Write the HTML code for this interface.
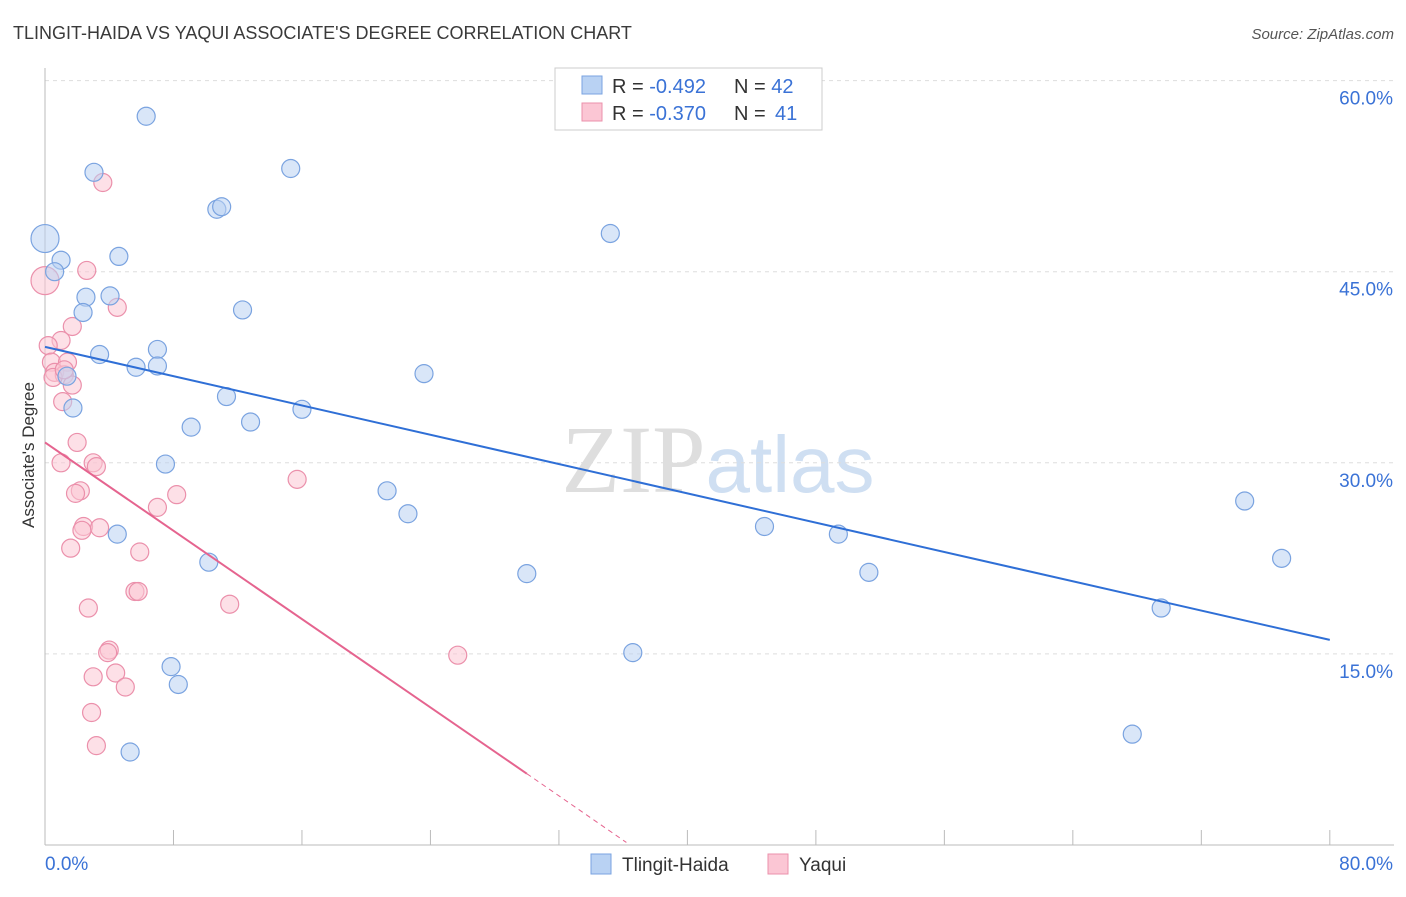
<!DOCTYPE html>
<html><head><meta charset="utf-8"><style>
body{margin:0;background:#fff;font-family:"Liberation Sans",sans-serif}
</style></head><body>
<svg id="chart" width="1406" height="892" xmlns="http://www.w3.org/2000/svg" font-family="Liberation Sans, sans-serif">
<text x="13" y="39" font-size="18" fill="#3a3a3a">TLINGIT-HAIDA VS YAQUI ASSOCIATE'S DEGREE CORRELATION CHART</text>
<text x="1394" y="39" font-size="15" fill="#555" text-anchor="end" font-style="italic">Source: ZipAtlas.com</text>
<text x="718" y="492" font-size="96" text-anchor="middle"><tspan fill="#dedede" font-family="Liberation Serif, serif">ZIP</tspan><tspan fill="#cfdff2" font-size="80">atlas</tspan></text>
<g id="grid"></g><g id="axes"></g><g id="marks"></g>
<text transform="translate(34,455) rotate(-90)" font-size="17" fill="#333" text-anchor="middle">Associate's Degree</text>
<g>
<rect x="555" y="68" width="267" height="62" fill="#fff" stroke="#ccc"/>
<rect x="582" y="76" width="20" height="18" fill="#b9d2f3" stroke="#7aa3e0"/>
<rect x="582" y="103" width="20" height="18" fill="#fbc6d4" stroke="#eb90ab"/>
<text x="612" y="93" font-size="20" fill="#333">R = <tspan fill="#3a72d6">-0.492</tspan></text>
<text x="734" y="93" font-size="20" fill="#333">N = <tspan fill="#3a72d6">42</tspan></text>
<text x="612" y="120" font-size="20" fill="#333">R = <tspan fill="#3a72d6">-0.370</tspan></text>
<text x="734" y="120" font-size="20" fill="#333">N = <tspan fill="#3a72d6" x="775">41</tspan></text>
</g>
<g>
<rect x="591" y="854" width="20" height="20" fill="#b9d2f3" stroke="#7aa3e0"/>
<text x="622" y="871" font-size="19" fill="#333">Tlingit-Haida</text>
<rect x="768" y="854" width="20" height="20" fill="#fbc6d4" stroke="#eb90ab"/>
<text x="799" y="871" font-size="19" fill="#333">Yaqui</text>
</g>
</svg>
<script>
const yTicks=[15,30,45,60];
const xTickLabels=["0.0%","80.0%"];
const blueX=[6.3,3.05,15.3,10.7,11.0,0,35.2,1.0,4.6,0.6,2.55,4.05,2.37,12.3,3.4,7.0,5.67,7.0,1.37,23.6,1.74,11.3,16.0,12.8,9.1,7.5,21.3,22.6,74.7,44.8,49.4,4.5,77.0,10.2,30.0,51.3,69.5,36.6,7.85,8.3,67.7,5.3];
const blueY=[57.2,52.8,53.1,49.9,50.1,47.6,48.0,45.9,46.2,45.0,43.0,43.1,41.8,42.0,38.5,38.9,37.5,37.6,36.8,37.0,34.3,35.2,34.2,33.2,32.8,29.9,27.8,26.0,27.0,25.0,24.4,24.4,22.5,22.2,21.3,21.4,18.6,15.1,14.0,12.6,8.7,7.3];
const pinkX=[0,3.6,2.6,4.5,1.7,1.0,0.2,0.4,1.4,0.6,1.2,0.5,1.7,1.1,2.0,1.0,3.0,3.2,15.7,2.2,1.9,8.2,7.0,2.4,2.3,3.4,1.6,5.9,5.6,5.8,11.5,2.7,4.0,3.9,25.7,4.4,3.0,5.0,2.9,3.2,1.2];
const pinkY=[44.3,52.0,45.1,42.2,40.7,39.6,39.2,37.9,37.9,37.1,36.9,36.7,36.1,34.8,31.6,30.0,30.0,29.7,28.7,27.8,27.6,27.5,26.5,25.0,24.7,24.9,23.3,23.0,19.9,19.9,18.9,18.6,15.3,15.1,14.9,13.5,13.2,12.4,10.4,7.8,37.3];
const blueSize=[9,9,9,9,9,14,9,9,9,9,9,9,9,9,9,9,9,9,9,9,9,9,9,9,9,9,9,9,9,9,9,9,9,9,9,9,9,9,9,9,9,9];
const blueTrend=[[0,39.1],[80,16.1]];
const pinkTrend=[[0,31.6],[30,5.6]];
const pinkDash=[[30,5.6],[36.2,0.2]];
const X=v=>45+v*16.06, Y=v=>845-v*12.74;
const NS="http://www.w3.org/2000/svg";
function mk(p,t,a){const e=document.createElementNS(NS,t);for(const k in a)e.setAttribute(k,a[k]);p.appendChild(e);return e;}
const grid=document.getElementById('grid'),axes=document.getElementById('axes'),marks=document.getElementById('marks');
yTicks.forEach(t=>{
 const l=mk(grid,'line',{x1:45,x2:1394,y1:Y(t),y2:Y(t),stroke:'#ddd','stroke-dasharray':'4,4'});
 
 
 const tx=mk(axes,'text',{x:1393,y:Y(t)+24,'font-size':19,fill:'#3a72d6','text-anchor':'end'});tx.textContent=t.toFixed(1)+'%';
 
 
});
const xa=mk(axes,'line',{x1:45,x2:1394,y1:845,y2:845,stroke:'#bbb'});


const ya=mk(axes,'line',{x1:45,x2:45,y1:68,y2:845,stroke:'#bbb'});


for(let i=0;i<=10;i++){const v=i*8;const t=mk(axes,'line',{x1:X(v),x2:X(v),y1:830,y2:845,stroke:'#bbb'});
 
 }
[[0,'start',45],[80,'end',1393]].forEach((d,i)=>{const t=mk(axes,'text',{x:d[2],y:870,'font-size':19,fill:'#3a72d6','text-anchor':d[1]});t.textContent=xTickLabels[i];
 
 });
function dots(xs,ys,fill,stroke,name,sz){xs.forEach((x,i)=>{const r=sz?sz[i]:(i===0?14:9);
 const c=mk(marks,'circle',{cx:X(x),cy:Y(ys[i]),r:r,fill:fill,stroke:stroke,'stroke-width':1.2,'fill-opacity':0.55});
 
 });}
dots(pinkX,pinkY,'#fbc6d4','#eb90ab','yaqui-point');
dots(blueX,blueY,'#b9d2f3','#7aa3e0','tlingit-haida-point',blueSize);
const bl=mk(marks,'line',{x1:X(blueTrend[0][0]),y1:Y(blueTrend[0][1]),x2:X(blueTrend[1][0]),y2:Y(blueTrend[1][1]),stroke:'#2f6fd6','stroke-width':2});


const pl=mk(marks,'line',{x1:X(pinkTrend[0][0]),y1:Y(pinkTrend[0][1]),x2:X(pinkTrend[1][0]),y2:Y(pinkTrend[1][1]),stroke:'#e5648f','stroke-width':2});


const pd=mk(marks,'line',{x1:X(pinkDash[0][0]),y1:Y(pinkDash[0][1]),x2:X(pinkDash[1][0]),y2:Y(pinkDash[1][1]),stroke:'#e5648f','stroke-width':1,'stroke-dasharray':'5,4'});


</script>
</body></html>
